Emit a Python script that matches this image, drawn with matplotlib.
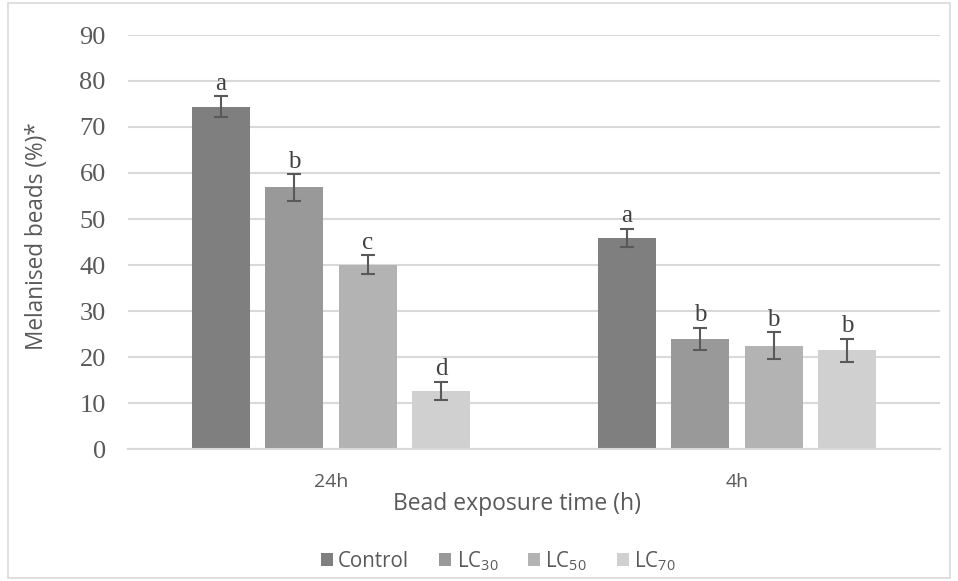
import numpy as np
import matplotlib.pyplot as plt
from matplotlib.patches import Rectangle

plt.rcParams['mathtext.fontset'] = 'custom'
plt.rcParams['mathtext.rm'] = 'Open Sans'

# data
groups = ["24h", "4h"]
series = ["Control", "LC$_{\\mathrm{30}}$", "LC$_{\\mathrm{50}}$", "LC$_{\\mathrm{70}}$"]
control = [74.4, 45.9]
lc30 = [56.9, 24.0]
lc50 = [40.1, 22.5]
lc70 = [12.6, 21.5]
err_control = [2.3, 2.0]
err_lc30 = [2.9, 2.4]
err_lc50 = [2.0, 2.9]
err_lc70 = [2.0, 2.5]
letters_control = ["a", "a"]
letters_lc30 = ["b", "b"]
letters_lc50 = ["c", "b"]
letters_lc70 = ["d", "b"]

colors = ["#7f7f7f", "#999999", "#b3b3b3", "#d0d0d0"]
values = [control, lc30, lc50, lc70]
errors = [err_control, err_lc30, err_lc50, err_lc70]
letters = [letters_control, letters_lc30, letters_lc50, letters_lc70]

sans = "Open Sans"
serif = "Liberation Serif"
grey = "#595959"

fig = plt.figure(figsize=(9.58, 5.81), dpi=100)
ax = fig.add_axes([128/958, 1 - 449/581, (940 - 128)/958, (449 - 35)/581])

# outer frame
fig.patches.append(Rectangle((8/958, 3/581), 942/958, 575/581, transform=fig.transFigure,
                             fill=False, edgecolor="#d9d9d9", linewidth=1.2))

x = np.arange(len(groups))
step = 0.181
width = 0.142
for i, (vals, errs, lets, col, lab) in enumerate(zip(values, errors, letters, colors, series)):
    pos = x + (i - 1.5) * step
    ax.bar(pos, vals, width, color=col, label=lab, zorder=2)
    ax.errorbar(pos, vals, yerr=errs, fmt="none", ecolor=grey, elinewidth=1.5,
                capsize=5, capthick=1.5, zorder=3)
    for p, v, e, l in zip(pos, vals, errs, lets):
        ax.text(p, v + e + 0.3, l, ha="center", va="bottom", fontsize=18,
                family=serif, color="#404040")

ax.set_xlim(-0.5, 1.5)
ax.set_ylim(0, 90)
ax.set_yticks(np.arange(0, 91, 10))
ax.yaxis.grid(True, color="#d9d9d9", linewidth=1.5, zorder=0)
ax.set_axisbelow(True)
for s in ["top", "right", "left"]:
    ax.spines[s].set_visible(False)
ax.spines["bottom"].set_color("#d9d9d9")
ax.spines["bottom"].set_linewidth(1.5)
ax.tick_params(axis="both", length=0)
ax.set_xticks(x)
ax.set_xticklabels(groups, fontsize=14, family=sans, color=grey)
for t in ax.get_yticklabels():
    t.set_family(serif)
    t.set_fontsize(19)
    t.set_color(grey)
ax.tick_params(axis="y", pad=16)
ax.tick_params(axis="x", pad=17)

ax.set_xlabel("Bead exposure time (h)", fontsize=16.5, family=sans, color=grey, labelpad=0)
ax.xaxis.set_label_coords(0.479, -0.105)
ax.set_ylabel("Melanised beads (%)*", fontsize=16.3, family=sans, color=grey)
ax.yaxis.set_label_coords(-0.097, 0.515)

leg = fig.legend(loc="center", bbox_to_anchor=(0.52, 1 - 561/581), ncol=4, frameon=False,
                 prop={"family": sans, "size": 14.8}, handlelength=0.6, handleheight=0.6,
                 handletextpad=0.25, columnspacing=1.45)
for t in leg.get_texts():
    t.set_color(grey)

fig.savefig("out.png", dpi=100)
